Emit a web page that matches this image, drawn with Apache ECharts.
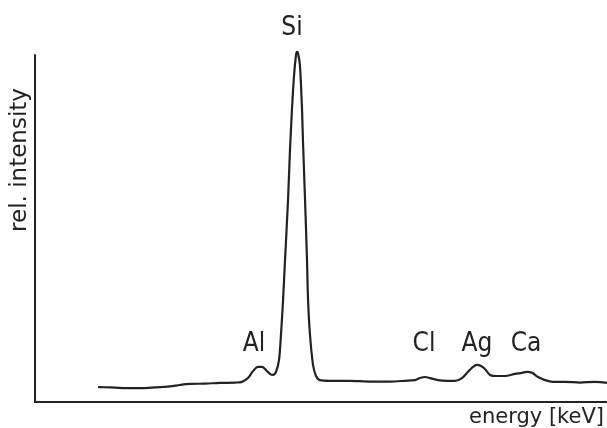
<!DOCTYPE html>
<html>
<head>
<meta charset="utf-8">
<script src="https://cdn.jsdelivr.net/npm/echarts@6/dist/echarts.min.js"></script>
<style>
  html, body { margin: 0; padding: 0; background: #fff; }
  #spectrum { width: 607px; height: 428px; }
</style>
</head>
<body>
<div id="spectrum"></div>
<script>
// energy axis (keV) and relative intensity
var energy = [0.419, 0.498, 0.598, 0.698, 0.797, 0.897, 0.963, 1.030, 1.129, 1.229,
  1.329, 1.375, 1.415, 1.448, 1.481, 1.508, 1.535, 1.561, 1.581, 1.601,
  1.621, 1.634, 1.648, 1.661, 1.681, 1.694, 1.707, 1.721, 1.734, 1.741,
  1.747, 1.760, 1.774, 1.780, 1.794, 1.807, 1.814, 1.827, 1.847, 1.867,
  1.893, 1.960, 2.093, 2.225, 2.358, 2.458, 2.524, 2.558, 2.591, 2.624,
  2.677, 2.737, 2.790, 2.837, 2.877, 2.910, 2.936, 2.963, 2.989, 3.023,
  3.069, 3.122, 3.189, 3.235, 3.268, 3.302, 3.342, 3.388, 3.441, 3.521,
  3.621, 3.720, 3.800];
var intensity = [4.3, 4.2, 4.0, 4.0, 4.2, 4.5, 4.9, 5.2, 5.3, 5.5,
  5.6, 5.8, 6.9, 8.9, 10.1, 10.1, 9.2, 8.1, 7.8, 8.7,
  12.1, 19.3, 29.4, 40.9, 58.2, 72.6, 84.2, 94.2, 100.0, 100.9,
  100.6, 97.1, 84.2, 75.5, 58.2, 40.9, 29.4, 19.3, 10.7, 7.5,
  6.3, 6.1, 6.1, 5.9, 5.9, 6.1, 6.3, 6.9, 7.2, 6.9,
  6.3, 6.1, 6.1, 6.9, 8.7, 10.1, 10.7, 10.4, 9.5, 7.8,
  7.5, 7.5, 8.1, 8.4, 8.7, 8.4, 7.2, 6.3, 5.8, 5.8,
  5.6, 5.8, 5.5];

// element labels and where they sit
var elements = ['Si', 'Al', 'Cl', 'Ag', 'Ca'];
var elementEnergy = [1.707, 1.455, 2.584, 2.936, 3.262];
var elementLevel = [107.7, 16.7, 16.7, 16.7, 16.7];

var chart = echarts.init(document.getElementById('spectrum'));

var inkColor = '#222';

var option = {
  backgroundColor: '#fff',
  animation: false,
  grid: { left: 35, right: 0, top: 55, bottom: 26 },
  xAxis: {
    type: 'value',
    min: 0,
    max: 3.8,
    axisLine: { show: true, lineStyle: { color: inkColor, width: 2 } },
    axisTick: { show: false },
    axisLabel: { show: false },
    splitLine: { show: false }
  },
  yAxis: {
    type: 'value',
    min: 0,
    max: 100,
    axisLine: { show: true, lineStyle: { color: inkColor, width: 2 } },
    axisTick: { show: false },
    axisLabel: { show: false },
    splitLine: { show: false }
  },
  graphic: [
    {
      type: 'text',
      x: 20,
      y: 160,
      rotation: Math.PI / 2,
      style: {
        text: 'rel. intensity',
        fill: inkColor,
        font: '23px "DejaVu Sans"',
        align: 'center',
        verticalAlign: 'middle'
      }
    },
    {
      type: 'text',
      x: 604,
      y: 418,
      style: {
        text: 'energy [keV]',
        fill: inkColor,
        font: '21px "DejaVu Sans"',
        align: 'right',
        verticalAlign: 'middle'
      }
    }
  ],
  series: [
    {
      type: 'line',
      data: energy.map(function (e, i) { return [e, intensity[i]]; }),
      showSymbol: false,
      smooth: 0.3,
      clip: false,
      lineStyle: { color: inkColor, width: 2.2 }
    },
    {
      type: 'scatter',
      symbolSize: 0,
      clip: false,
      itemStyle: { opacity: 1 },
      data: elements.map(function (n, i) {
        return { name: n, value: [elementEnergy[i], elementLevel[i]] };
      }),
      label: {
        show: true,
        position: 'inside',
        formatter: '{b}',
        color: inkColor,
        fontSize: 26,
        fontFamily: '"DejaVu Sans Condensed", "DejaVu Sans"'
      }
    }
  ]
};

chart.setOption(option);
</script>
</body>
</html>
